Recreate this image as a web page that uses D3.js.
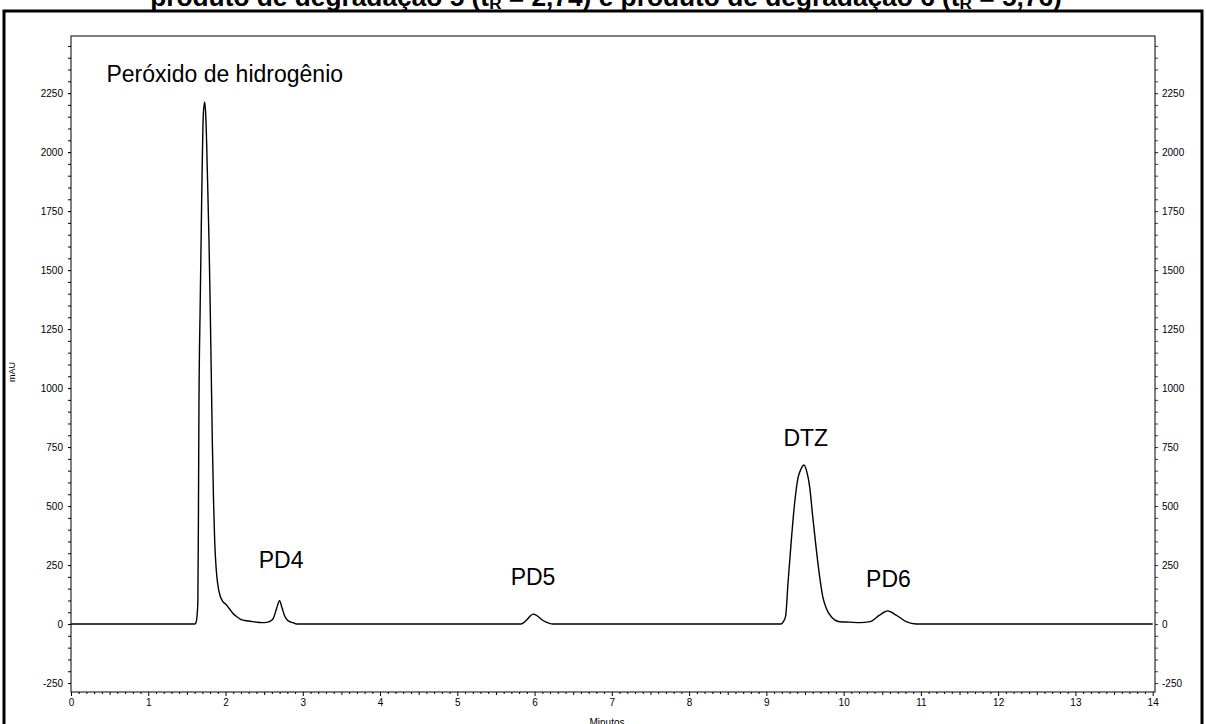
<!DOCTYPE html>
<html>
<head>
<meta charset="utf-8">
<script src="https://cdn.jsdelivr.net/npm/d3@7"></script>
<style>
  html, body { margin: 0; padding: 0; background: #fff; }
  svg { display: block; }
  text { font-family: Arial, "Liberation Sans", sans-serif; }
</style>
</head>
<body>
<script>
// Chromatogram trace: retention time (min) and absorbance (mAU)
const timeMin = [
  0, 1.60, 1.615, 1.63, 1.642, 1.65, 1.656, 1.672, 1.69, 1.713, 1.73, 1.745,
  1.766, 1.785, 1.80, 1.815, 1.83, 1.845, 1.86, 1.88, 1.90, 1.93, 1.966,
  2.00, 2.05, 2.10, 2.15, 2.19, 2.25, 2.32, 2.40, 2.47, 2.53, 2.58, 2.62,
  2.66, 2.70, 2.73, 2.77, 2.80, 2.83, 2.87, 2.92,
  5.82, 5.86, 5.90, 5.94, 5.98, 6.02, 6.06, 6.10, 6.15, 6.20, 6.23,
  9.19, 9.22, 9.25, 9.28, 9.32, 9.366, 9.41, 9.45, 9.486, 9.52, 9.56, 9.60,
  9.647, 9.69, 9.73, 9.776, 9.84, 9.95, 10.08, 10.21,
  10.34, 10.465, 10.57, 10.68, 10.81, 10.94, 14.0
];
const absorbance = [
  0, 0, 4, 30, 95, 500, 917, 1350, 1769, 2162, 2213, 2150,
  1900, 1640, 1380, 1070, 760, 520, 350, 230, 167, 120, 95,
  85, 65, 44, 30, 21, 15, 12, 8, 6, 7, 12, 25,
  65, 99, 70, 31, 17, 10, 6, 0,
  0, 6, 18, 33, 42, 38, 28, 17, 8, 2, 0,
  0, 10, 35, 174, 343, 513, 620, 658, 674, 650, 582, 455,
  314, 200, 116, 66, 31, 10, 8, 6,
  10, 38, 56, 38, 10, 0, 0
];

// Peak labels, anchored in data units (min, mAU)
const peakNames = ["Peróxido de hidrogênio", "PD4", "PD5", "DTZ", "PD6"];
const peakLabelTime = [1.99, 2.72, 5.98, 9.51, 10.58];
const peakLabelMAU = [2297, 237, 165, 754, 157];

// Axis ticks
const xMajorTicks = d3.range(0, 15);
const yMajorTicks = [-250, 0, 250, 500, 750, 1000, 1250, 1500, 1750, 2000, 2250];

const W = 1206, H = 724;

const svg = d3.select("body").append("svg")
  .attr("width", W).attr("height", H);

svg.append("rect").attr("width", W).attr("height", H).attr("fill", "#fff");

// outer frame (continues below the visible area)
svg.append("rect")
  .attr("x", 4).attr("y", 11).attr("width", 1198).attr("height", 780)
  .attr("fill", "none").attr("stroke", "#000").attr("stroke-width", 3);

// title, running off the top edge
const title = svg.append("text")
  .attr("x", 606).attr("y", 6)
  .attr("text-anchor", "middle")
  .attr("font-weight", "bold")
  .attr("font-size", 20);
title.append("tspan").text("produto de degradação 5 (t");
title.append("tspan").attr("font-size", 13).attr("dy", 3).text("R");
title.append("tspan").attr("dy", -3).text(" = 2,74) e produto de degradação 6 (t");
title.append("tspan").attr("font-size", 13).attr("dy", 3).text("R");
title.append("tspan").attr("dy", -3).text(" = 5,76)");
{
  const len = title.node().getComputedTextLength();
  const fs = 20 * 912 / len;
  title.attr("font-size", fs);
  title.selectAll("tspan").filter((d, i) => i % 2 === 1).attr("font-size", fs * 0.65);
}

const x = d3.scaleLinear().domain([0, 14.03]).range([71, 1155]);
const y = d3.scaleLinear().domain([-288, 2492]).range([692, 36]);

const plainNum = d => String(d);
const tickFont = g => g.selectAll("text")
  .attr("font-size", 10).attr("font-family", "Arial, 'Liberation Sans', sans-serif").attr("fill", "#000");

// x axis: minor (0.1), medium (0.5), major (1)
const xMinor = d3.range(0, 140).map(i => i / 10).filter(v => Math.abs(v * 2 - Math.round(v * 2)) > 1e-6);
const xMid = d3.range(0, 14).map(i => i + 0.5);
svg.append("g").attr("transform", `translate(0,${y.range()[0]})`)
  .call(d3.axisBottom(x).tickValues(xMinor).tickSize(2).tickFormat(""))
  .call(g => g.select(".domain").remove());
svg.append("g").attr("transform", `translate(0,${y.range()[0]})`)
  .call(d3.axisBottom(x).tickValues(xMid).tickSize(3).tickFormat(""))
  .call(g => g.select(".domain").remove());
svg.append("g").attr("transform", `translate(0,${y.range()[0]})`)
  .call(d3.axisBottom(x).tickValues(xMajorTicks).tickSize(4).tickPadding(3).tickFormat(plainNum))
  .call(g => g.select(".domain").remove())
  .call(tickFont);

// y axes: minor every 50 mAU
const yMinor = d3.range(-250, 2500, 50);
svg.append("g").attr("transform", `translate(${x.range()[0]},0)`)
  .call(d3.axisLeft(y).tickValues(yMinor).tickSize(3).tickFormat(""))
  .call(g => g.select(".domain").remove());
svg.append("g").attr("transform", `translate(${x.range()[0]},0)`)
  .call(d3.axisLeft(y).tickValues(yMajorTicks).tickSize(3).tickPadding(5).tickFormat(plainNum))
  .call(g => g.select(".domain").remove())
  .call(tickFont);

svg.append("g").attr("transform", `translate(${x.range()[1]},0)`)
  .call(d3.axisRight(y).tickValues(yMinor).tickSize(3).tickFormat(""))
  .call(g => g.select(".domain").remove())
  .call(g => g.selectAll("line").attr("stroke", "#3a3a8c"));
svg.append("g").attr("transform", `translate(${x.range()[1]},0)`)
  .call(d3.axisRight(y).tickValues(yMajorTicks).tickSize(3).tickPadding(4).tickFormat(plainNum))
  .call(g => g.select(".domain").remove())
  .call(g => g.selectAll("line").attr("stroke", "#3a3a8c"))
  .call(tickFont);

// plot box
svg.append("rect")
  .attr("x", x.range()[0]).attr("y", y.range()[1])
  .attr("width", x.range()[1] - x.range()[0])
  .attr("height", y.range()[0] - y.range()[1])
  .attr("fill", "none").attr("stroke", "#000").attr("stroke-width", 1);

// axis titles
svg.append("text")
  .attr("transform", "translate(15,372) rotate(-90)")
  .attr("text-anchor", "middle").attr("font-size", 9).text("mAU");
svg.append("text")
  .attr("x", 607).attr("y", 726)
  .attr("text-anchor", "middle").attr("font-size", 10).text("Minutos");

// trace
const pts = timeMin.map((t, i) => [t, absorbance[i]]);
svg.append("path")
  .datum(pts)
  .attr("fill", "none").attr("stroke", "#000").attr("stroke-width", 1.4)
  .attr("stroke-linejoin", "round")
  .attr("d", d3.line().x(d => x(d[0])).y(d => y(d[1])).curve(d3.curveMonotoneX));

// peak labels
svg.append("g").selectAll("text")
  .data(peakNames)
  .join("text")
  .attr("x", (d, i) => x(peakLabelTime[i]))
  .attr("y", (d, i) => y(peakLabelMAU[i]))
  .attr("text-anchor", "middle")
  .attr("font-size", 23)
  .text(d => d);
</script>
</body>
</html>
